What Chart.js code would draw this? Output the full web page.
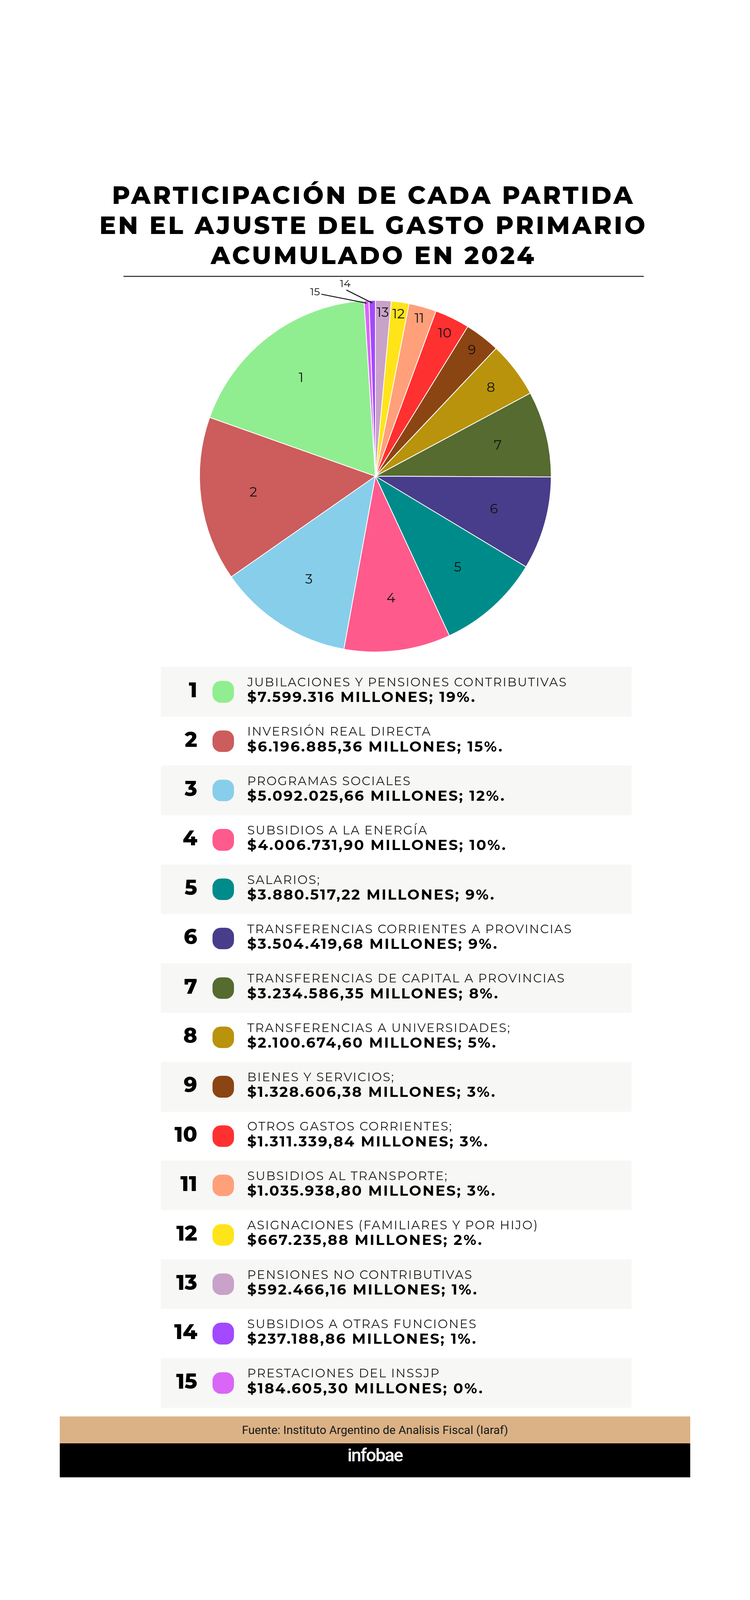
<!DOCTYPE html>
<html lang="es">
<head>
<meta charset="utf-8">
<title>Participación de cada partida en el ajuste del gasto primario</title>
<script src="https://cdn.jsdelivr.net/npm/chart.js@4.4.1/dist/chart.umd.min.js"></script>
<style>
  /* --k: escala vertical si la ventana es más baja que 4894px; --s: escala de tamaños */
  :root { --k: 1; --s: 1; }
  body { margin: 0; background: #fff; font-family: "Montserrat", "Inter", sans-serif; }
  #pagina { position: relative; width: 1920px; height: calc(4894px * var(--k)); overflow: hidden; background: #fff; }
  #titulo {
    position: absolute; left: 0; width: 1912px;
    top: calc(691px * var(--k) - 125.5px * var(--s) - 2px);
    text-align: center; font-weight: 800; font-size: calc(68.5px * var(--s)); line-height: calc(83.7px * var(--s));
    color: #000; letter-spacing: 5.5px;
  }
  #regla { position: absolute; left: 316px; width: 1332px; top: calc(843px * var(--k)); height: 3px; background: #444; }
  #contTorta { position: absolute; left: 361px; top: calc(1456px * var(--k) - 600px); width: 1200px; height: 1200px; }
  .fila { position: absolute; left: 412px; width: 1205px; height: calc(152px * var(--k)); }
  .fila.gris { background: #f7f7f5; }
  .fila .num {
    position: absolute; right: 1112px; top: -5px; font-weight: 800; font-size: calc(58px * var(--s));
    line-height: calc(152px * var(--k)); color: #000;
  }
  .fila .color {
    position: absolute; left: 132px; top: calc(76px * var(--k) - 30px * var(--s));
    width: calc(60px * var(--s)); height: calc(60px * var(--s)); border-radius: calc(23px * var(--s));
  }
  .fila .nombre {
    position: absolute; left: 221px; top: calc(60px * var(--k) - 28.5px); font-size: 31px; line-height: 34px;
    color: #1a1a1a; white-space: nowrap; letter-spacing: 2.5px;
  }
  .fila .monto {
    position: absolute; left: 221px; top: calc(108px * var(--k) - 34.5px); font-size: 37px; line-height: 42px;
    font-weight: 700; color: #000; white-space: nowrap; letter-spacing: 3.2px;
  }
  #fuente {
    position: absolute; left: 153px; width: 1614px; top: calc(4332px * var(--k)); height: calc(83px * var(--k));
    background: #dbb286; font-family: Roboto, sans-serif; font-size: 30px; line-height: calc(83px * var(--k));
    text-align: center; color: #1a1a1a;
  }
  #marca {
    position: absolute; left: 153px; width: 1614px; top: calc(4415px * var(--k)); height: calc(104px * var(--k));
    background: #000; color: #fff; font-family: Roboto, sans-serif; font-weight: 500;
    font-size: calc(50px * var(--s)); line-height: calc(74px * var(--k)); text-align: center; letter-spacing: -2px;
  }
</style>
</head>
<body>
<div id="pagina">
  <div id="titulo">PARTICIPACIÓN DE CADA PARTIDA<br>EN EL AJUSTE DEL GASTO PRIMARIO<br>ACUMULADO EN 2024</div>
  <div id="regla"></div>
  <div id="contTorta"><canvas id="ChartTorta" width="1200" height="1200"></canvas></div>
  <div id="leyenda"></div>
  <div id="fuente">Fuente: Instituto Argentino de Analisis Fiscal (Iaraf)</div>
  <div id="marca">infobae</div>
</div>
<script>
const partidas = [1, 2, 3, 4, 5, 6, 7, 8, 9, 10, 11, 12, 13, 14, 15];
const nombres = [
  "JUBILACIONES Y PENSIONES CONTRIBUTIVAS",
  "INVERSIÓN REAL DIRECTA",
  "PROGRAMAS SOCIALES",
  "SUBSIDIOS A LA ENERGÍA",
  "SALARIOS;",
  "TRANSFERENCIAS CORRIENTES A PROVINCIAS",
  "TRANSFERENCIAS DE CAPITAL A PROVINCIAS",
  "TRANSFERENCIAS A UNIVERSIDADES;",
  "BIENES Y SERVICIOS;",
  "OTROS GASTOS CORRIENTES;",
  "SUBSIDIOS AL TRANSPORTE;",
  "ASIGNACIONES (FAMILIARES Y POR HIJO)",
  "PENSIONES NO CONTRIBUTIVAS",
  "SUBSIDIOS A OTRAS FUNCIONES",
  "PRESTACIONES DEL INSSJP",
];
const montos = [
  7599316, 6196885.36, 5092025.66, 4006731.9, 3880517.22, 3504419.68, 3234586.35, 2100674.6,
  1328606.38, 1311339.84, 1035938.8, 667235.88, 592466.16, 237188.86, 184605.3,
];
const porcentajes = [19, 15, 12, 10, 9, 9, 8, 5, 3, 3, 3, 2, 1, 1, 0];
const colores = [
  "#90ee90", "#cd5c5c", "#87ceeb", "#ff5a8c", "#008b8b", "#483d8b", "#556b2f", "#b8930b",
  "#8b4513", "#ff3030", "#ffa07a", "#ffe41a", "#c8a2c8", "#a349ff", "#da66f7",
];
// orden de las porciones en la torta, en sentido horario desde arriba
const ordenTorta = [13, 12, 11, 10, 9, 8, 7, 6, 5, 4, 3, 2, 1, 15, 14];

// La infografía mide 4894px de alto; si la ventana es más baja se comprime en vertical
const K = Math.min(1, window.innerHeight / 4894);
const S = Math.min(1, K * 1.1);
document.documentElement.style.setProperty("--k", K);
document.documentElement.style.setProperty("--s", S);

// formato argentino: 6.196.885,36
function formatoMonto(valor) {
  const entero = Math.floor(valor).toString().replace(/\B(?=(\d{3})+(?!\d))/g, ".");
  if (Number.isInteger(valor)) return "$" + entero;
  const dec = Math.round((valor % 1) * 100).toString().padStart(2, "0");
  return "$" + entero + "," + dec;
}

// Armamos la leyenda de abajo
const divLeyenda = document.getElementById("leyenda");
partidas.forEach((num, i) => {
  const fila = document.createElement("div");
  fila.className = "fila" + (i % 2 === 0 ? " gris" : "");
  fila.style.top = (2040 + i * 151) * K + "px";
  fila.innerHTML =
    `<div class="num">${num}</div>` +
    `<div class="color" style="background:${colores[i]}"></div>` +
    `<div class="nombre">${nombres[i]}</div>` +
    `<div class="monto">${formatoMonto(montos[i])} MILLONES; ${porcentajes[i]}%.</div>`;
  divLeyenda.appendChild(fila);
});

// Plugin para los números dentro de cada porción
const etiquetasTorta = {
  id: "etiquetasTorta",
  afterDatasetsDraw(chart, args, opts) {
    const ctx = chart.ctx;
    const meta = chart.getDatasetMeta(0);
    ctx.save();
    ctx.fillStyle = "#111";
    ctx.strokeStyle = "#111";
    meta.data.forEach((arco, i) => {
      const p = arco.getProps(["x", "y", "startAngle", "endAngle", "outerRadius"], true);
      const num = ordenTorta[i];
      const medio = (p.startAngle + p.endAngle) / 2;
      const barrido = ((p.endAngle - p.startAngle) * 180) / Math.PI;
      const afuera = opts.afuera[num];
      if (afuera) {
        // porciones chicas: número afuera con línea guía
        const x1 = p.x + Math.cos(medio) * p.outerRadius * 0.985;
        const y1 = p.y + Math.sin(medio) * p.outerRadius * 0.985;
        const x0 = x1 + afuera.dx * S;
        const y0 = y1 + afuera.dy * S;
        ctx.lineWidth = 2.5;
        ctx.beginPath();
        ctx.moveTo(x0, y0);
        ctx.lineTo(x1, y1);
        ctx.stroke();
        ctx.font = `400 ${Math.round(29 * S)}px "Montserrat", "Inter", sans-serif`;
        ctx.textAlign = afuera.align;
        ctx.textBaseline = "middle";
        ctx.fillText(String(num), x0 + afuera.tx * S, y0 + afuera.ty * S);
        return;
      }
      const t = Math.min(Math.max(barrido, 9), 30);
      const f = 0.93 - ((t - 9) / 21) * 0.23;
      ctx.font = `400 ${Math.round(37 * S)}px "Montserrat", "Inter", sans-serif`;
      ctx.textAlign = "center";
      ctx.textBaseline = "middle";
      ctx.fillText(String(num), p.x + Math.cos(medio) * p.outerRadius * f, p.y + Math.sin(medio) * p.outerRadius * f);
    });
    ctx.restore();
  },
};

const ctx = document.getElementById("ChartTorta");
const Torta = new Chart(ctx, {
  type: "pie",
  data: {
    labels: ordenTorta.map((n) => nombres[n - 1]),
    datasets: [
      {
        data: ordenTorta.map((n) => montos[n - 1]),
        backgroundColor: ordenTorta.map((n) => colores[n - 1]),
        borderColor: "#ffffff",
        borderWidth: 2,
      },
    ],
  },
  options: {
    responsive: false,
    animation: false,
    radius: 489 * S,
    rotation: 0,
    layout: { padding: 0 },
    plugins: {
      legend: { display: false },
      tooltip: { enabled: false },
      etiquetasTorta: {
        afuera: {
          15: { dx: -126, dy: -25, tx: -4, ty: -5, align: "right" },
          14: { dx: -72, dy: -36, tx: -3, ty: -17, align: "center" },
        },
      },
    },
  },
  plugins: [etiquetasTorta],
});
</script>
</body>
</html>
